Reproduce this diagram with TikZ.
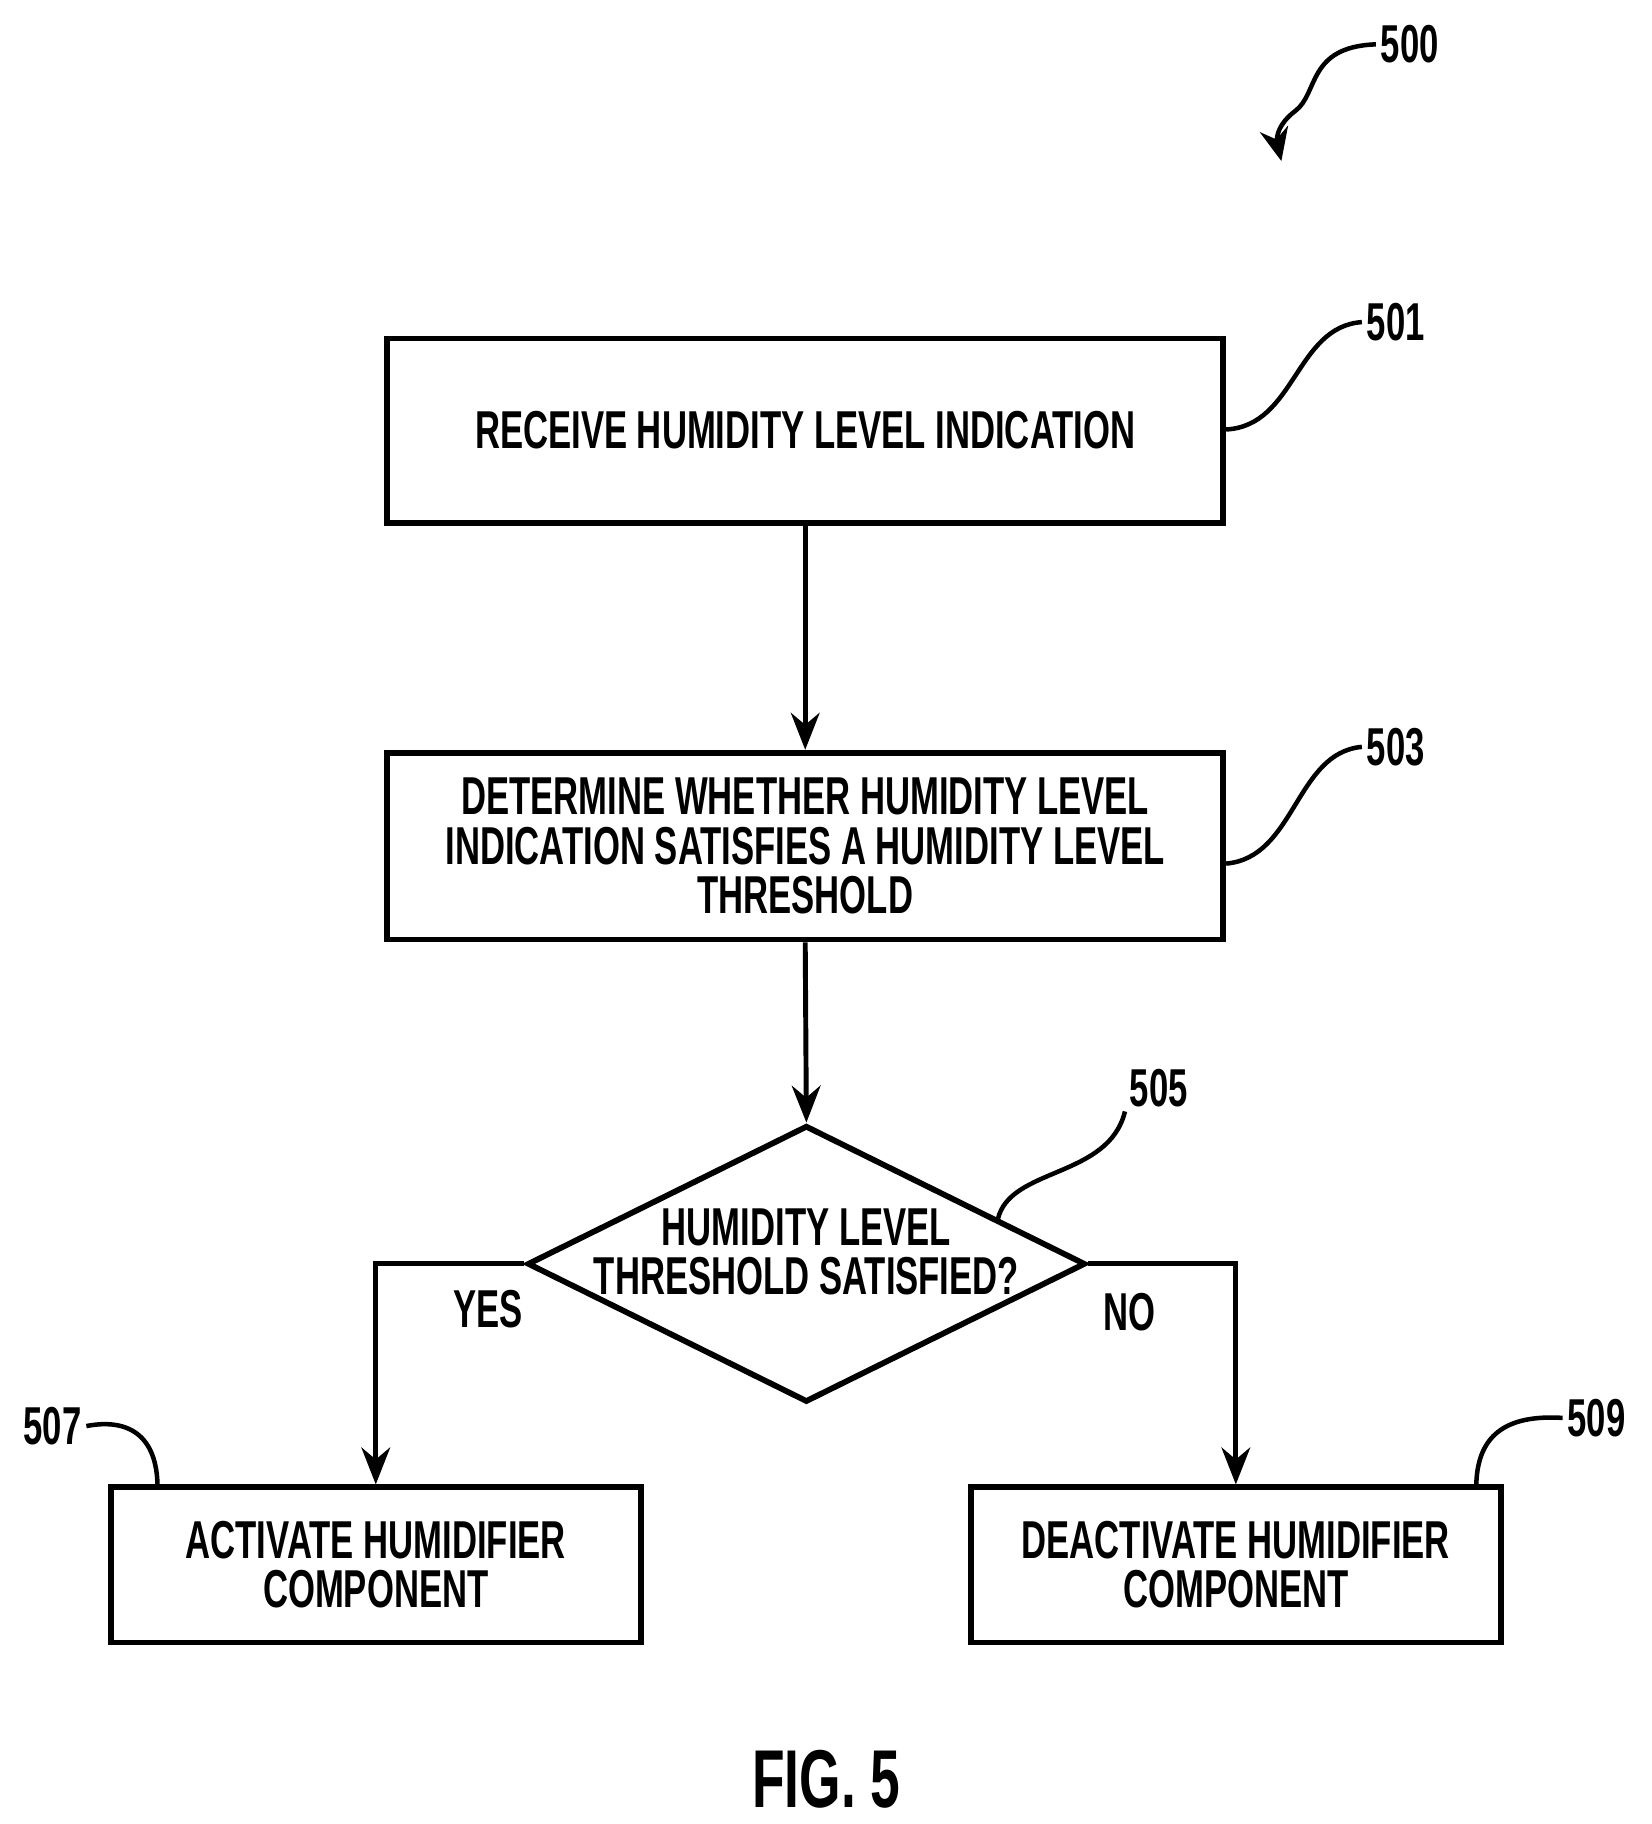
\documentclass[tikz,border=0pt]{standalone}
\usepackage{fontspec}
\setmainfont{Liberation Sans}
\usetikzlibrary{shapes.geometric,arrows.meta}
\newcommand{\cn}[1]{\scalebox{0.65}[1]{\bfseries #1}}
\begin{document}
\begin{tikzpicture}[x=0.01cm,y=-0.01cm,
  box/.style={draw,line width=1.4pt,inner sep=0pt},
  txt/.style={font=\fontsize{13}{15}\selectfont,align=center,inner sep=0pt},
  ref/.style={font=\fontsize{13}{15}\selectfont,inner sep=1pt},
  con/.style={line width=1.2pt,-{Stealth[length=9pt,width=7pt]}},
  lead/.style={line width=1.1pt}]
\useasboundingbox (0,0) rectangle (1415,1563);
\node[box,minimum width=7.16cm,minimum height=1.58cm] (b501) at (690,369) {};
\node[box,minimum width=7.16cm,minimum height=1.6cm] (b503) at (690,725) {};
\node[draw,line width=1.4pt,diamond,minimum width=4.78cm,minimum height=2.37cm,inner sep=0pt,aspect=2] (d505) at (691,1083) {};
\node[box,minimum width=4.54cm,minimum height=1.33cm] (b507) at (322,1341) {};
\node[box,minimum width=4.54cm,minimum height=1.33cm] (b509) at (1059,1341) {};
\node[txt] at (b501) {\cn{RECEIVE HUMIDITY LEVEL INDICATION}};
\node[txt] at (b503) {\cn{DETERMINE WHETHER HUMIDITY LEVEL}\\[-3pt]\cn{INDICATION SATISFIES A HUMIDITY LEVEL}\\[-3pt]\cn{THRESHOLD}};
\node[txt] at (691,1073) {\cn{HUMIDITY LEVEL}\\[-3pt]\cn{THRESHOLD SATISFIED?}};
\node[txt] at (b507) {\cn{ACTIVATE HUMIDIFIER}\\[-3pt]\cn{COMPONENT}};
\node[txt] at (b509) {\cn{DEACTIVATE HUMIDIFIER}\\[-3pt]\cn{COMPONENT}};
\node[txt] (yes) at (418,1122) {\cn{YES}};
\node[txt] (no) at (968,1124) {\cn{NO}};
\draw[con] (b501.south) -- (b503.north);
\draw[con] (b503.south) -- (d505.north);
\draw[con] (d505.west) -| (b507.north);
\draw[con] (d505.east) -| (b509.north);
\node[ref] (r500) at (1208,38) {\cn{500}};
\node[ref] (r501) at (1196,276) {\cn{501}};
\node[ref] (r503) at (1196,640) {\cn{503}};
\node[ref] (r505) at (993,932) {\cn{505}};
\node[ref] (r507) at (45,1222) {\cn{507}};
\node[ref] (r509) at (1368,1215) {\cn{509}};
\node[ref] (fig) at (708,1525) {\fontsize{20}{22}\selectfont\cn{FIG.\ 5}};
\coordinate (a500) at (1098,138);
\draw[lead,-{Stealth[length=8pt,width=7pt]}] (r500.west) .. controls (1120,40) and (1130,80) .. (1110,95) .. controls (1090,110) and (1095,125) .. (a500);
\draw[lead] (b501.east |- 0,368) .. controls (1110,365) and (1110,280) .. (r501.west);
\draw[lead] (b503.east |- 0,740) .. controls (1110,735) and (1110,645) .. (r503.west);
\draw[lead] (855,1045) .. controls (865,1000) and (950,1010) .. (r505.south west);
\draw[lead] (r507.east) .. controls (110,1215) and (135,1230) .. (135,1275);
\draw[lead] (1265,1275) .. controls (1265,1230) and (1290,1212) .. (r509.west);
\end{tikzpicture}
\end{document}
